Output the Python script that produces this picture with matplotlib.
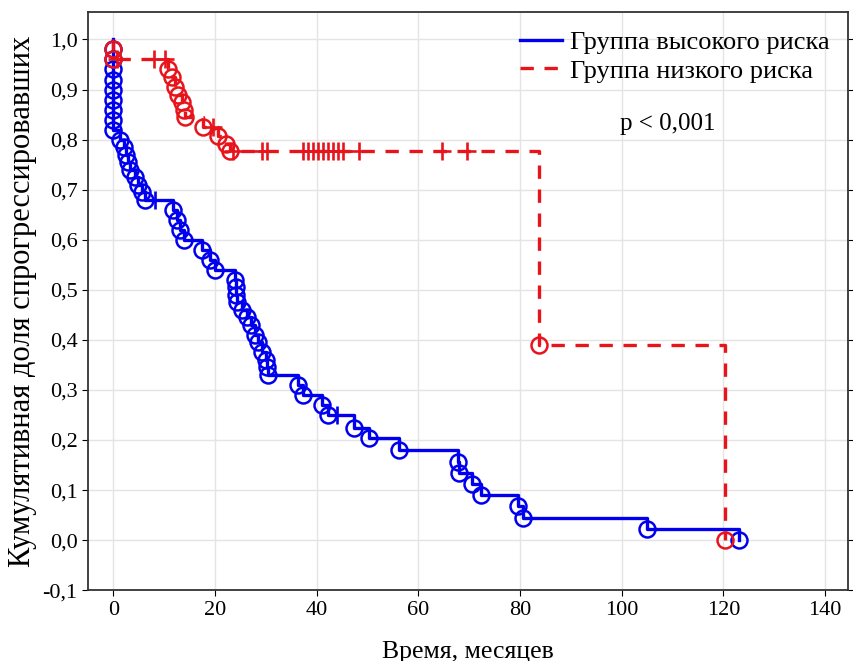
import numpy as np
import matplotlib.pyplot as plt

# high risk group: event times and survival level after each event
hi_t = [0, 0, 0, 0, 0, 0, 0, 0, 0,
        1.4, 2.0, 2.5, 2.8, 3.2, 4.3, 4.9, 5.6, 6.3,
        11.8, 12.6, 13.1, 13.8, 17.4, 19.0, 20.0,
        24.0, 24.1, 24.2, 24.3, 25.3, 26.2, 27.0, 27.8, 28.4, 29.3, 30.0, 30.3, 30.5,
        36.3, 37.3, 41.0, 42.3, 47.3, 50.2, 56.2,
        67.8, 68.0, 70.6, 72.3, 79.5, 80.5, 105.0, 123.0]
hi_s = [0.98, 0.96, 0.94, 0.92, 0.90, 0.88, 0.86, 0.84, 0.82,
        0.80, 0.785, 0.77, 0.755, 0.74, 0.725, 0.71, 0.695, 0.68,
        0.66, 0.64, 0.62, 0.60, 0.58, 0.56, 0.54,
        0.52, 0.505, 0.49, 0.475, 0.46, 0.445, 0.43, 0.41, 0.395, 0.375, 0.36, 0.345, 0.33,
        0.31, 0.29, 0.27, 0.25, 0.225, 0.205, 0.18,
        0.157, 0.135, 0.113, 0.09, 0.068, 0.045, 0.023, 0.0]
hi_cens = [8.2, 44.0]

# low risk group
lo_t = [0, 0, 10.8, 11.5, 12.2, 12.8, 13.4, 13.9, 14.1,
        17.6, 20.6, 22.2, 23.0, 83.7, 120.3]
lo_s = [0.98, 0.96, 0.94, 0.925, 0.905, 0.89, 0.875, 0.86, 0.845,
        0.825, 0.808, 0.792, 0.778, 0.39, 0.0]
lo_cens = [0.8, 7.9, 10.2, 19.5, 23.5, 29.2, 30.2, 37.3, 38.2, 39.2, 40.2,
           41.2, 42.2, 43.1, 44.1, 45.1, 48.4, 64.7, 69.6]

blue = '#0000ee'
red = '#e8141c'

plt.rcParams['font.family'] = ['Liberation Serif', 'DejaVu Serif']

fig = plt.figure(figsize=(8.54, 6.61), dpi=100)
ax = fig.add_axes([0.103, 0.107, 0.890, 0.875])


def level_at(times, levels, t):
    i = np.searchsorted(times, t, side='right') - 1
    return levels[i]


def km(times, levels, cens, color, ls, label):
    tt = np.array([0.0] + list(times))
    ss = np.array([1.0] + list(levels))
    ax.step(tt, ss, where='post', color=color, lw=2.4, ls=ls, label=label,
            zorder=3)
    ax.plot(times, levels, 'o', ms=11.5, mfc='none', mec=color, mew=1.8,
            zorder=4)
    cy = [level_at(tt, ss, c) for c in cens]
    ax.plot(cens, cy, '+', ms=13, mec=color, mew=1.9, zorder=4)


km(hi_t, hi_s, hi_cens, blue, '-', 'Группа высокого риска')
km(lo_t, lo_s, lo_cens, red, (0, (4, 3.2)), 'Группа низкого риска')

ax.set_xlim(-5, 144.5)
ax.set_ylim(-0.1, 1.055)
ax.set_xticks(np.arange(0, 141, 20))
ax.set_yticks(np.arange(-0.1, 1.01, 0.1))
ax.set_yticklabels([('%.1f' % v).replace('.', ',') for v in np.arange(-0.1, 1.01, 0.1)])
ax.grid(True, color='#e4e4e4', lw=1)
ax.set_axisbelow(True)
ax.tick_params(labelsize=16, direction='out', length=4, top=False, right=True)
for sp in ax.spines.values():
    sp.set_linewidth(1.3)
    sp.set_color('#333333')

ax.set_xlabel('Время, месяцев', fontsize=18.5, labelpad=15)
ax.set_ylabel('Кумулятивная доля спрогрессировавших', fontsize=22, labelpad=4)

ax.legend(loc='upper right', frameon=False, fontsize=19, handlelength=1.6,
          borderaxespad=0.3, labelspacing=0.2, handletextpad=0.3)
ax.text(109, 0.832, 'p < 0,001', fontsize=18, ha='center', va='center')

fig.savefig('out.png', dpi=100)
